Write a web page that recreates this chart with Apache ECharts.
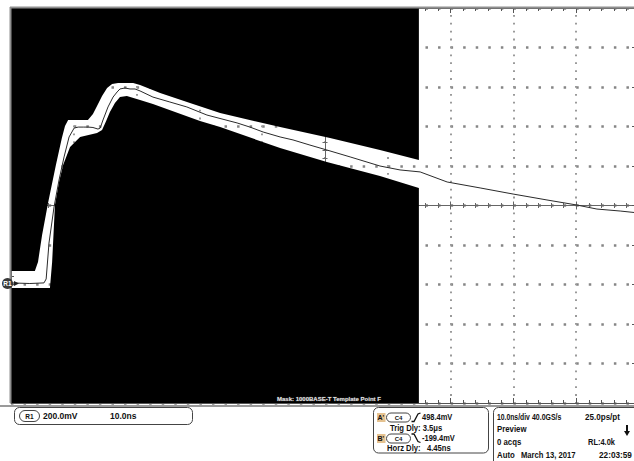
<!DOCTYPE html>
<html>
<head>
<meta charset="utf-8">
<script src="https://cdn.jsdelivr.net/npm/echarts@6/dist/echarts.min.js"></script>
<style>
html,body{margin:0;padding:0;background:#fff;overflow:hidden;}
#c{width:634px;height:461px;}
</style>
</head>
<body>
<div id="c"></div>
<script>
// ---- waveform (R1 reference trace), time in ns, voltage in mV ----
const timeNs = [0, 3.0, 5.25, 5.6, 6.05, 6.85, 7.65, 8.45, 9.25, 10.05, 10.7, 11.5, 12.3, 13.05, 13.85, 14.2, 14.65, 15.45, 16.25, 16.9, 17.35, 18.15, 18.95, 19.75, 20.55, 22.6, 25.3, 28.0, 31.2, 33.6, 36.0, 38.05, 40.15, 42.85, 44.9, 47.6, 50.3, 54.0, 58.75, 61.95, 65.15, 69.45, 74.7, 79.95, 85.35, 90.0, 93.3, 97.0, 100];
const voltMv = [8, 5, 8, 28, 210, 392, 529, 646, 747, 792, 797, 797, 797, 795, 787, 792, 833, 899, 949, 975, 990, 995, 990, 990, 980, 949, 924, 899, 858, 838, 818, 797, 772, 747, 732, 706, 681, 646, 600, 580, 570, 519, 489, 458, 428, 403, 382, 372, 362];

// ---- mask template (gap boundaries) ----
const maskUpperT = [0, 3.8, 4.3, 4.95, 5.9, 7.15, 8.1, 8.6, 9.1, 12.25, 13.05, 13.7, 14.5, 15.3, 16.1, 17.05, 19.45, 20.55, 23.75, 28.5, 33.3, 42.85, 50.8, 58.75, 64.95];
const maskUpperV = [68, 68, 114, 251, 413, 605, 742, 803, 833, 833, 863, 904, 954, 995, 1015, 1020, 1020, 1010, 970, 919, 868, 797, 742, 681, 630];
const maskLowerT = [0, 6.2, 6.55, 7.0, 7.65, 8.3, 9.4, 11.0, 13.7, 14.5, 15.15, 15.75, 16.55, 17.35, 18.45, 20.55, 22.6, 30.1, 33.3, 42.85, 50.3, 58.75, 64.95];
const maskLowerV = [-18, -18, 114, 403, 519, 605, 696, 747, 767, 782, 828, 873, 919, 949, 954, 934, 914, 828, 797, 691, 620, 549, 489];

// ---- axis ranges ----
const xRange = [0, 100];      // 10 ns/div
const yRange = [-600, 1400];  // 200 mV/div
const xCenterRange = [-50, 50];
const yCenterRange = [-1000, 1000];

// ---- readout texts ----
const refLabel = 'R1';
const refScale = '200.0mV';
const refTime = '10.0ns';
const maskName = 'Mask: 1000BASE-T Template Point F';
const cursorA = "A'", cursorB = "B'", cursorSrc = 'C4';
const cursorAVal = '498.4mV', cursorBVal = '-199.4mV';
const trigDly = 'Trig Dly: 3.5\u03bcs';
const horzDly = 'Horz Dly:   4.45ns';
const horizScale = '10.0ns/div', sampleRate = '40.0GS/s', resolution = '25.0ps/pt';
const acqMode = 'Preview', acqCount = '0 acqs', recLen = 'RL:4.0k';
const trigMode = 'Auto', dateText = 'March 13, 2017', timeText = '22:03:59';

const FONT = '"Liberation Sans", Arial, sans-serif';
const txt = (x, y, s, size, sx, align, color) => ({
  type: 'text', x: x, y: y, z: 100, scaleX: sx || 1,
  style: { text: s, font: 'bold ' + size + 'px ' + FONT, fill: color || '#111', verticalAlign: 'middle', align: align || 'left' }
});

function maskPolygon(ts, vs, capV) {
  const pts = [[ts[0], capV]];
  for (let i = 0; i < ts.length; i++) pts.push([ts[i], vs[i]]);
  pts.push([ts[ts.length - 1], capV]);
  return pts;
}

const chart = echarts.init(document.getElementById('c'), null, { renderer: 'svg' });

const axCol = '#555';
const cenCol = '#666';
const dotCol = '#9a9a9a';

const graphics = [
  // frame
  { type: 'line', z: 100, shape: { x1: 10, y1: 7.5, x2: 634, y2: 7.5 }, style: { stroke: '#8f8f8f', lineWidth: 2 } },
  { type: 'line', z: 100, shape: { x1: 10.5, y1: 7, x2: 10.5, y2: 403 }, style: { stroke: '#8f8f8f', lineWidth: 2 } },
  { type: 'line', z: 100, shape: { x1: 0, y1: 406, x2: 634, y2: 406 }, style: { stroke: '#9a9a9a', lineWidth: 2 } },
  // R1 ground marker
  { type: 'circle', z: 100, shape: { cx: 7.5, cy: 283.5, r: 5.5 }, style: { fill: '#3a3a3a' } },
  txt(7.5, 283.5, refLabel, 6.5, 1, 'center', '#fff'),
  { type: 'polygon', z: 100, shape: { points: [[14, 281], [19, 283.5], [14, 286]] }, style: { fill: '#222' } },
  // mask name
  { type: 'text', z: 100, x: 277, y: 398.5, style: { text: maskName, font: 'bold 6px ' + FONT, fill: '#e6e6e6', stroke: '#444', lineWidth: 0.6, verticalAlign: 'middle' } },
  // box 1
  { type: 'rect', z: 100, shape: { x: 14.5, y: 407.5, width: 178, height: 17, r: 5 }, style: { fill: 'none', stroke: '#444', lineWidth: 1 } },
  { type: 'rect', z: 100, shape: { x: 19.5, y: 410.5, width: 20, height: 11, r: 5.5 }, style: { fill: '#fff', stroke: '#444', lineWidth: 1 } },
  txt(29.5, 416, refLabel, 6.5, 1, 'center'),
  txt(43, 416, refScale, 8.5),
  txt(110, 416, refTime, 8.5),
  // box 2
  { type: 'rect', z: 100, shape: { x: 373.5, y: 407.5, width: 115, height: 45.5, r: 5 }, style: { fill: 'none', stroke: '#444', lineWidth: 1 } },
  { type: 'rect', z: 100, shape: { x: 377, y: 413, width: 8.5, height: 9 }, style: { fill: '#e5c290' } },
  txt(377.5, 417.5, cursorA, 7),
  { type: 'rect', z: 100, shape: { x: 386.5, y: 413, width: 24, height: 9, r: 4.5 }, style: { fill: '#fff', stroke: '#444', lineWidth: 1 } },
  txt(398.5, 417.5, cursorSrc, 6, 1, 'center'),
  { type: 'polyline', z: 100, shape: { points: [[411.5, 421.5], [414, 421.5], [418, 414], [420.5, 413]] }, style: { stroke: '#111', lineWidth: 1.3, fill: 'none' } },
  txt(422, 417.5, cursorAVal, 8.5, 0.88),
  txt(390, 428, trigDly, 8.5, 0.9),
  { type: 'rect', z: 100, shape: { x: 377, y: 434, width: 8.5, height: 9 }, style: { fill: '#e5c290' } },
  txt(377.5, 438.5, cursorB, 7),
  { type: 'rect', z: 100, shape: { x: 386.5, y: 434, width: 24, height: 9, r: 4.5 }, style: { fill: '#fff', stroke: '#444', lineWidth: 1 } },
  txt(398.5, 438.5, cursorSrc, 6, 1, 'center'),
  { type: 'polyline', z: 100, shape: { points: [[411.5, 434], [414, 434], [418, 441.5], [420.5, 442.5]] }, style: { stroke: '#111', lineWidth: 1.3, fill: 'none' } },
  txt(422, 438.5, cursorBVal, 8.5, 0.88),
  txt(387, 448.5, horzDly, 8.5, 0.9),
  // box 3
  { type: 'rect', z: 100, shape: { x: 493.5, y: 407.5, width: 150, height: 60, r: 5 }, style: { fill: 'none', stroke: '#444', lineWidth: 1 } },
  txt(497, 417, horizScale, 8.5, 0.8),
  txt(532, 417, sampleRate, 8.5, 0.82),
  txt(585, 417, resolution, 8.5, 0.95),
  txt(497, 429.5, acqMode, 8.5, 0.92),
  txt(497, 442, acqCount, 8.5, 0.92),
  txt(588, 442, recLen, 8.5, 0.88),
  txt(497, 455, trigMode, 8.5, 0.92),
  txt(521, 455, dateText, 8.5, 0.9),
  txt(599, 455, timeText, 8.5, 0.97),
  { type: 'line', z: 100, shape: { x1: 627, y1: 425, x2: 627, y2: 432 }, style: { stroke: '#111', lineWidth: 2 } },
  { type: 'polygon', z: 100, shape: { points: [[624, 431], [630, 431], [627, 436]] }, style: { fill: '#111' } }
];

function frameAxis(extra) {
  return Object.assign({
    type: 'value',
    axisLabel: { show: false },
    splitLine: { show: false },
    axisLine: { show: true, onZero: false, lineStyle: { color: axCol, width: 1 } },
    axisTick: { show: true, inside: true, length: 5, lineStyle: { color: axCol } },
    minorTick: { show: true, splitNumber: 5, length: 3, lineStyle: { color: axCol } }
  }, extra);
}
function centerAxis(extra, inside) {
  return Object.assign({
    type: 'value',
    axisLabel: { show: false },
    splitLine: { show: false },
    axisLine: { show: true, onZero: true, onZeroAxisIndex: 2, lineStyle: { color: cenCol, width: 1 } },
    axisTick: { show: true, inside: inside, length: 4, lineStyle: { color: cenCol } },
    minorTick: { show: true, splitNumber: 5, length: 2.5, lineStyle: { color: cenCol } }
  }, extra);
}

const option = {
  animation: false,
  backgroundColor: '#fff',
  grid: { left: 11, top: 8, width: 628, height: 395, containLabel: false, outerBoundsMode: 'none', show: false },
  xAxis: [
    frameAxis({ position: 'bottom', min: xRange[0], max: xRange[1], interval: 10,
      splitLine: { show: true, lineStyle: { color: dotCol, width: 2, type: [1.8, 6.1], dashOffset: 0.9 } } }),
    frameAxis({ position: 'top', min: xRange[0], max: xRange[1], interval: 10 }),
    centerAxis({ position: 'bottom', min: xCenterRange[0], max: xCenterRange[1], interval: 10 }, true),
    centerAxis({ position: 'bottom', min: xCenterRange[0], max: xCenterRange[1], interval: 10 }, false)
  ],
  yAxis: [
    frameAxis({ position: 'left', min: yRange[0], max: yRange[1], interval: 200,
      splitLine: { show: true, lineStyle: { color: '#858585', width: 2.5, type: [2.5, 10.06] } } }),
    frameAxis({ position: 'right', min: yRange[0], max: yRange[1], interval: 200, axisTick: { show: true, inside: true, length: 7, lineStyle: { color: axCol } } }),
    centerAxis({ position: 'left', min: yCenterRange[0], max: yCenterRange[1], interval: 200 }, true),
    centerAxis({ position: 'left', min: yCenterRange[0], max: yCenterRange[1], interval: 200 }, false)
  ],
  series: [
    {
      type: 'custom',
      name: 'mask',
      xAxisIndex: 0, yAxisIndex: 0,
      z: 2,
      silent: true,
      clip: false,
      data: [[0, 0], [1, 0]],
      renderItem: function (params, api) {
        const pts = params.dataIndex === 0
          ? maskPolygon(maskUpperT, maskUpperV, yRange[1])
          : maskPolygon(maskLowerT, maskLowerV, yRange[0]);
        return { type: 'polygon', shape: { points: pts.map(p => api.coord(p)) }, style: { fill: '#000' } };
      }
    },
    {
      type: 'line',
      name: 'R1',
      xAxisIndex: 0, yAxisIndex: 0,
      z: 3,
      showSymbol: false,
      silent: true,
      data: timeNs.map((t, i) => [t, voltMv[i]]),
      lineStyle: { color: '#2a2a2a', width: 1 }
    }
  ],
  graphic: graphics
};
chart.setOption(option);
</script>
</body>
</html>
